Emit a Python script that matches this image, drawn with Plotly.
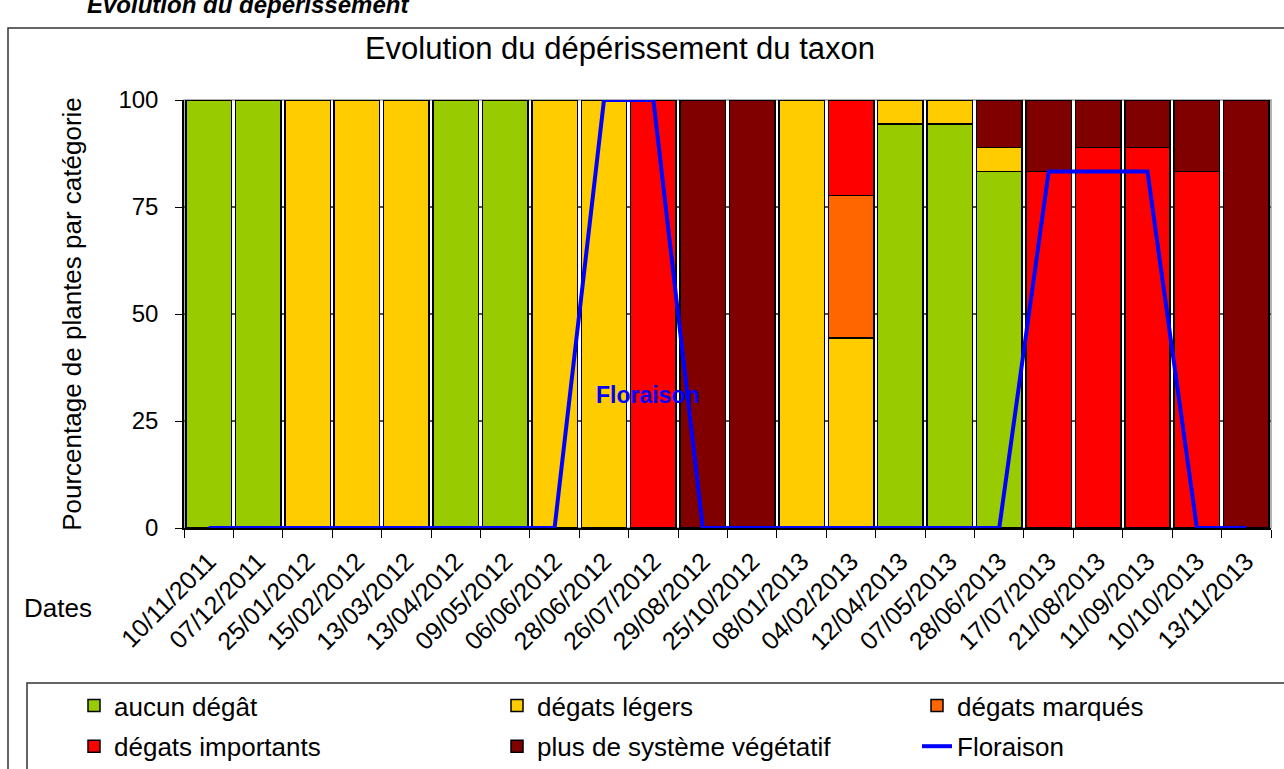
import plotly.graph_objects as go

FONT = "Liberation Sans, Arial, sans-serif"

dates = ["10/11/2011", "07/12/2011", "25/01/2012", "15/02/2012", "13/03/2012",
         "13/04/2012", "09/05/2012", "06/06/2012", "28/06/2012", "26/07/2012",
         "29/08/2012", "25/10/2012", "08/01/2013", "04/02/2013", "12/04/2013",
         "07/05/2013", "28/06/2013", "17/07/2013", "21/08/2013", "11/09/2013",
         "10/10/2013", "13/11/2013"]

_ = None
aucun_degat = [100, 100, _, _, _, 100, 100, _, _, _, _,
               _, _, _, 94.4, 94.4, 83.3, _, _, _, _, _]
degats_legers = [_, _, 100, 100, 100, _, _, 100, 100, _, _,
                 _, 100, 44.4, 5.6, 5.6, 5.6, _, _, _, _, _]
degats_marques = [_, _, _, _, _, _, _, _, _, _, _,
                  _, _, 33.3, _, _, _, _, _, _, _, _]
degats_importants = [_, _, _, _, _, _, _, _, _, 100, _,
                     _, _, 22.2, _, _, _, 83.3, 88.9, 88.9, 83.3, _]
plus_vegetatif = [_, _, _, _, _, _, _, _, _, _, 100,
                  100, _, _, _, _, 11.1, 16.7, 11.1, 11.1, 16.7, 100]
floraison = [0, 0, 0, 0, 0, 0, 0, 0, 100, 100, 0,
             0, 0, 0, 0, 0, 0, 83.3, 83.3, 83.3, 0, 0]

series = [
    ("aucun dégât", aucun_degat, "#99CC00", "legend"),
    ("dégats légers", degats_legers, "#FFCC00", "legend2"),
    ("dégats marqués", degats_marques, "#FF6600", "legend3"),
    ("dégats importants", degats_importants, "#FF0000", "legend"),
    ("plus de système végétatif", plus_vegetatif, "#800000", "legend2"),
]

fig = go.Figure()
for name, vals, col, leg in series:
    fig.add_trace(go.Bar(
        x=dates, y=vals, name=name, legend=leg, legendgroup=name,
        marker=dict(color=col, line=dict(color="black", width=1.5)),
    ))
fig.add_trace(go.Scatter(
    x=dates, y=floraison, name="Floraison", mode="lines", legend="legend3",
    legendgroup="Floraison", line=dict(color="#0000FF", width=4),
))


# pixel helpers: plot area is x 184..1271, y 100..528
def px(x):
    return (x - 184) / 1087


def py(y):
    return (528 - y) / 428


leg_common = dict(
    orientation="v", yanchor="top", xanchor="left", y=py(682),
    font=dict(family=FONT, size=26, color="black"),
    bgcolor="rgba(0,0,0,0)", tracegroupgap=4, traceorder="grouped",
)

fig.update_layout(
    width=1284, height=769,
    margin=dict(l=184, r=13, t=100, b=241, autoexpand=False),
    paper_bgcolor="white", plot_bgcolor="white",
    barmode="stack", bargap=0.08,
    font=dict(family=FONT, size=24, color="black"),
    title=dict(text="Evolution du dépérissement du taxon", x=620 / 1284, xanchor="center",
               y=1 - 48 / 769, yanchor="middle", font=dict(size=31, color="black")),
    legend=dict(x=px(74), **leg_common),
    legend2=dict(x=px(497), **leg_common),
    legend3=dict(x=px(917), **leg_common),
    xaxis=dict(
        type="category", tickson="boundaries", ticks="outside", ticklen=8,
        tickcolor="black", tickangle=-45, showline=True, linecolor="black",
        linewidth=1.5, showgrid=False, tickfont=dict(size=25), automargin=False,
        ticklabelstandoff=7,
    ),
    yaxis=dict(
        range=[0, 100], tickvals=[0, 25, 50, 75, 100], ticks="outside", ticklen=7,
        tickcolor="black", showline=True, linecolor="black", linewidth=1.5,
        showgrid=True, gridcolor="#555555", gridwidth=1.5, zeroline=False,
        tickfont=dict(size=24), ticklabelstandoff=12, automargin=False,
        title=dict(text="Pourcentage de plantes par catégorie", standoff=29,
                   font=dict(size=26)),
    ),
    shapes=[
        # outer chart frame
        dict(type="rect", xref="paper", yref="paper", x0=px(8), x1=px(1300),
             y0=py(800), y1=py(28), line=dict(color="#333333", width=1.5), layer="below"),
        # legend frame
        dict(type="rect", xref="paper", yref="paper", x0=px(27), x1=px(1300),
             y0=py(800), y1=py(683), line=dict(color="#333333", width=1.5), layer="below"),
        # plot area border (top / right)
        dict(type="rect", xref="paper", yref="paper", x0=0, x1=1, y0=0, y1=1,
             line=dict(color="#999999", width=1.5), layer="below"),
    ],
    annotations=[
        dict(text="<b><i>Evolution du dépérissement</i></b>", xref="paper", yref="paper",
             x=px(85), y=py(5), xanchor="left", yanchor="middle", showarrow=False,
             font=dict(size=24, color="black")),
        dict(text="Dates", xref="paper", yref="paper", x=px(58), y=py(608),
             xanchor="center", yanchor="middle", showarrow=False,
             font=dict(size=26, color="black")),
        dict(text="<b>Floraison</b>", xref="x", yref="y", x=8.89, y=31,
             xanchor="center", yanchor="middle", showarrow=False,
             font=dict(size=23, color="#0000FF")),
    ],
)

# the page body keeps its default 8px margin otherwise
fig.write_html("out.html", config={"displayModeBar": False},
               post_script="document.body.style.margin='0';")
